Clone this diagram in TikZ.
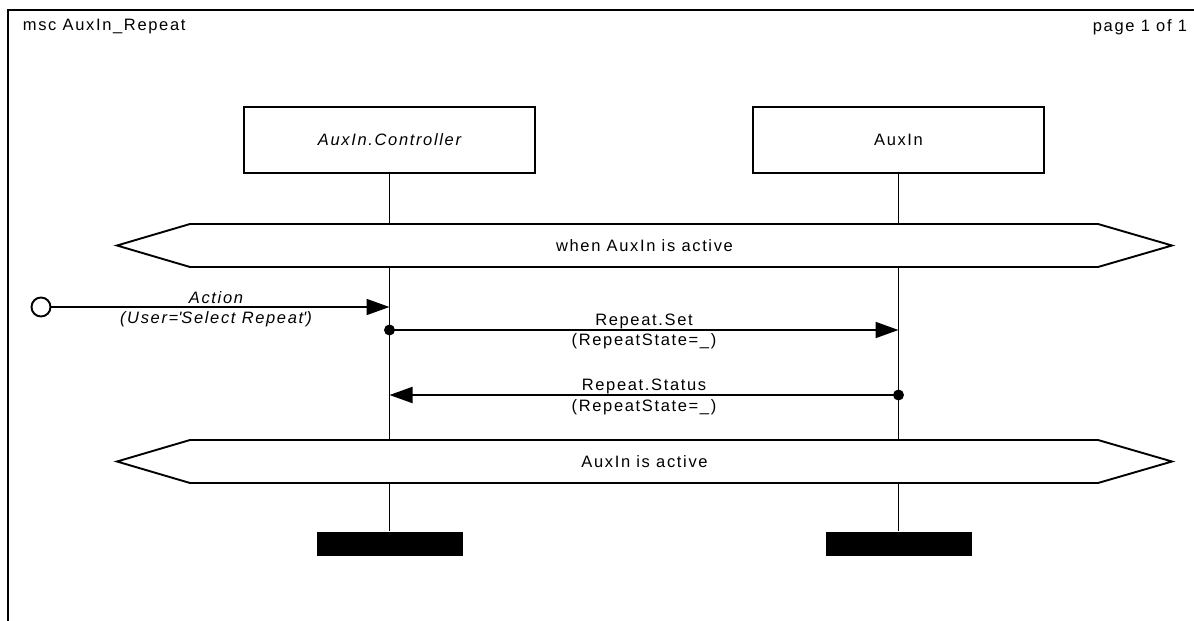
\documentclass[tikz,border=0pt]{standalone}
\usepackage{fontspec}
\setmainfont{Liberation Sans}[LetterSpace=10]
\usetikzlibrary{arrows.meta}
\begin{document}
\begin{tikzpicture}[x=1pt, y=-1pt, line width=1.9pt,
  font=\fontsize{16.5}{18}\selectfont,
  inst/.style={draw, minimum width=291pt, minimum height=66pt, inner sep=0pt},
  lbl/.style={inner sep=0pt},
  msg/.style={-{Triangle[length=23pt,width=16pt]}},
  msgdot/.style={circle, fill, inner sep=0pt, minimum size=11pt},
  envgate/.style={circle, draw, fill=white, inner sep=0pt, minimum size=19pt},
  stopbar/.style={fill, minimum width=146pt, minimum height=24pt, inner sep=0pt},
  condition/.style={draw, line join=miter},
]
\useasboundingbox (0,0) rectangle (1194,621);
\clip (0,0) rectangle (1194,621);

% diagram frame (runs off the page to the right and below)
\draw (8,640) -- (8,10) -- (1210,10);
\node[lbl, anchor=west] (title) at (22,27) {msc AuxIn\_Repeat};
\node[lbl, anchor=east] (page) at (1188,27) {page 1 of 1};

% instance heads
\node[inst, font=\fontsize{16.5}{18}\selectfont\itshape] (ctrl) at (389.5,140) {AuxIn.Controller};
\node[inst] (aux) at (898.5,140) {AuxIn};

% lifeline anchor points
\coordinate (ctrlA) at (389.5,224);
\coordinate (ctrlB) at (389.5,267);
\coordinate (ctrlC) at (389.5,440);
\coordinate (ctrlD) at (389.5,483);
\coordinate (auxA) at (898.5,224);
\coordinate (auxB) at (898.5,267);
\coordinate (auxC) at (898.5,440);
\coordinate (auxD) at (898.5,483);

% first condition
\draw[condition] (117,245.5) -- (190,224) -- (1098,224) -- (1172,245.5)
  -- (1098,267) -- (190,267) -- cycle;
\node[lbl] (cond1) at (644.5,245.5) {when AuxIn is active};

% second condition
\draw[condition] (117,461.5) -- (190,440) -- (1098,440) -- (1172,461.5)
  -- (1098,483) -- (190,483) -- cycle;
\node[lbl] (cond2) at (644.5,461.5) {AuxIn is active};

% stop bars
\node[stopbar] (ctrlstop) at (389.5,544) {};
\node[stopbar] (auxstop) at (898.5,544) {};

% lifelines
\draw (ctrl.south) -- (ctrlA);
\draw (ctrlB) -- (ctrlC);
\draw (ctrlD) -- (ctrlstop.north);
\draw (aux.south) -- (auxA);
\draw (auxB) -- (auxC);
\draw (auxD) -- (auxstop.north);

% environment action
\node[envgate] (env) at (41,307) {};
\coordinate (actIn) at (389.5,307);
\draw[msg] (env) -- (actIn);
\node[lbl, font=\fontsize{16.5}{18}\selectfont\itshape] (actName) at (216,298) {Action};
\node[lbl, font=\fontsize{16.5}{18}\selectfont\itshape] (actPar) at (216,319) {(User=\textquotesingle Select Repeat\textquotesingle)};

% Repeat.Set
\node[msgdot] (setOut) at (389.5,330) {};
\coordinate (setIn) at (898.5,330);
\draw[msg] (setOut.center) -- (setIn);
\node[lbl] (setName) at (644,321) {Repeat.Set};
\node[lbl] (setPar) at (644,341) {(RepeatState=\_)};

% Repeat.Status
\node[msgdot] (statOut) at (898.5,395) {};
\coordinate (statIn) at (389.5,395);
\draw[msg] (statOut.center) -- (statIn);
\node[lbl] (statName) at (644,386) {Repeat.Status};
\node[lbl] (statPar) at (644,407) {(RepeatState=\_)};
\end{tikzpicture}
\end{document}
